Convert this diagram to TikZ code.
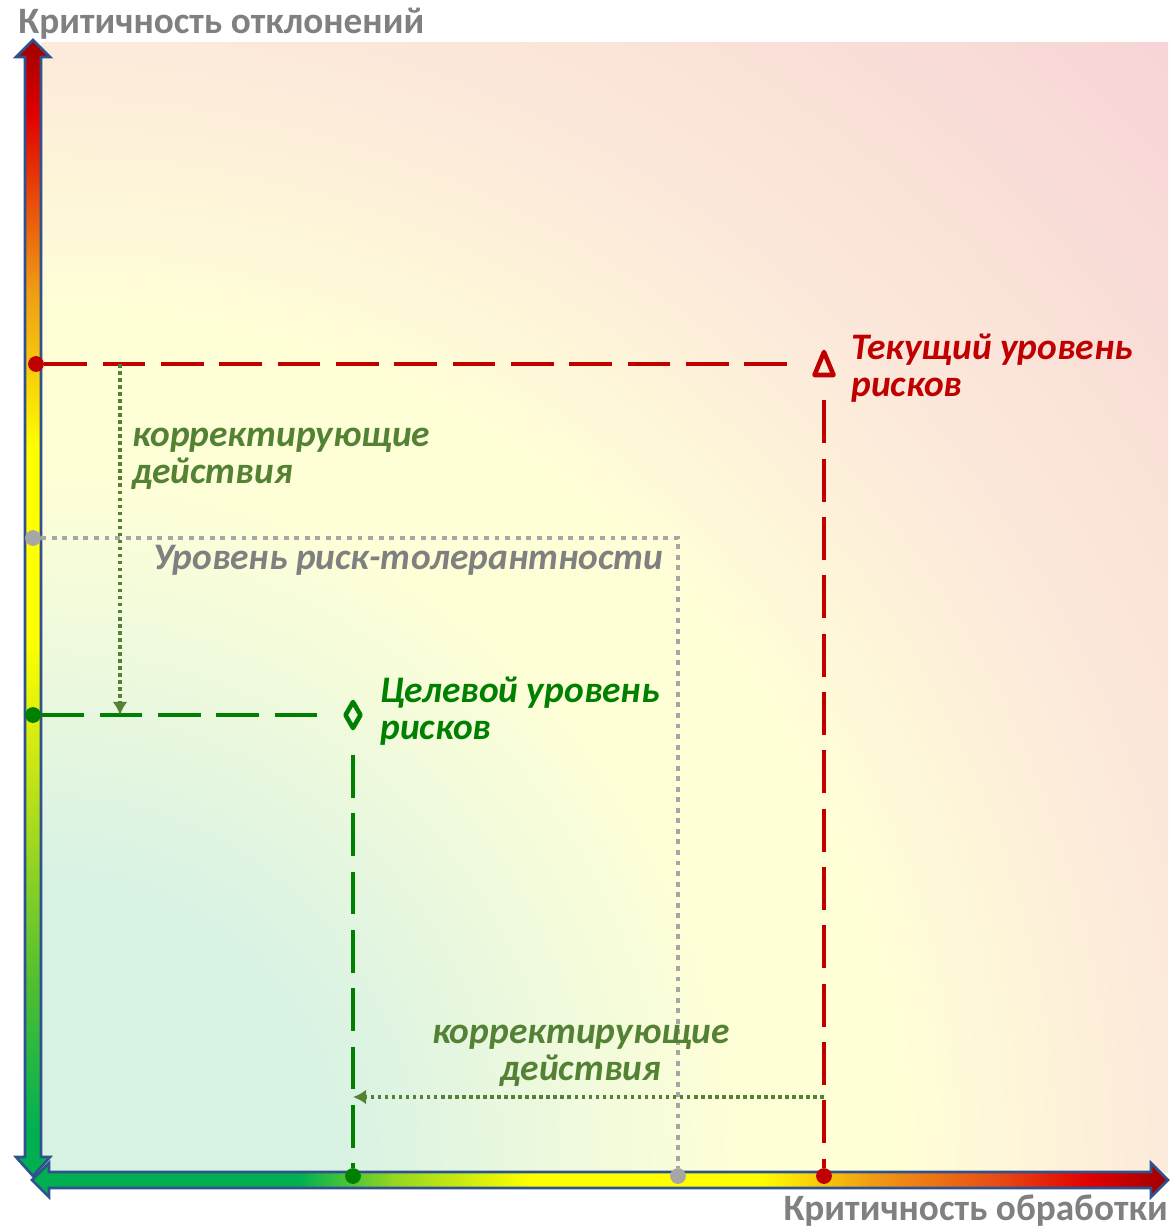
\documentclass[tikz,border=0pt]{standalone}
\usepackage{fontspec}
\setmainfont{Carlito}
\usepackage{xcolor}
\usetikzlibrary{arrows.meta,positioning}
% Colours
\definecolor{CurRed}{RGB}{192,0,0}
\definecolor{TgtGreen}{RGB}{0,128,0}
\definecolor{FixGreen}{RGB}{84,130,53}
\definecolor{TolGray}{RGB}{166,166,166}
\definecolor{LabelGray}{RGB}{128,128,128}
\definecolor{AxisBlue}{RGB}{47,82,143}
\definecolor{FieldGreen}{RGB}{216,242,228}
\definecolor{FieldYellow}{RGB}{255,255,215}
\definecolor{FieldPeach}{RGB}{252,234,218}
\definecolor{FieldPink}{RGB}{247,212,214}
\definecolor{AxGreen}{RGB}{0,176,80}
\definecolor{AxMidGreen}{RGB}{80,190,50}
\definecolor{AxLime}{RGB}{200,230,20}
\definecolor{AxYellow}{RGB}{255,255,0}
\definecolor{AxOrange}{RGB}{240,155,20}
\definecolor{AxRedOrange}{RGB}{232,75,20}
\definecolor{AxRed}{RGB}{224,0,0}
\definecolor{AxDarkRed}{RGB}{160,0,0}
% Shadings
\pgfdeclareradialshading{Field}{\pgfpoint{0bp}{0bp}}{%
	color(0bp)=(FieldGreen); color(6.5bp)=(FieldGreen);
	color(15.5bp)=(FieldYellow); color(19bp)=(FieldYellow);
	color(25bp)=(FieldPeach); color(35.5bp)=(FieldPink);
	color(50bp)=(FieldPink)}
\pgfdeclarehorizontalshading{XAxis}{100bp}{%
	color(0bp)=(AxGreen); color(36.75bp)=(AxGreen);
	color(41bp)=(AxMidGreen!40!AxLime); color(47bp)=(AxYellow);
	color(57bp)=(AxYellow); color(62bp)=(AxOrange);
	color(67.5bp)=(AxRedOrange); color(71.5bp)=(AxRed);
	color(75bp)=(AxDarkRed); color(100bp)=(AxDarkRed)}
\pgfdeclareverticalshading{YAxis}{100bp}{%
	color(0bp)=(AxGreen); color(27bp)=(AxGreen);
	color(33.5bp)=(AxMidGreen); color(43bp)=(AxLime);
	color(48.5bp)=(AxYellow); color(57bp)=(AxYellow);
	color(64bp)=(AxOrange); color(71.75bp)=(AxRed);
	color(75bp)=(AxDarkRed); color(100bp)=(AxDarkRed)}
\tikzset{%Global config
	>=latex,
	color = black ,
	%Styles
	Axis/.style={
		draw=AxisBlue,
		line width=1.5pt,
		line join=miter,
	},
	Dot/.style={
		circle,
		fill,
		inner sep=0pt,
		minimum size=9pt,
	},
	Mark/.style={
		inner sep=0pt,
	},
	MarkLine/.style={
		line width=2.6pt,
		line join=round,
	},
	CurLine/.style={
		CurRed,
		line width=2.8pt,
		dash pattern=on 24.4pt off 8.8pt,
	},
	TgtLine/.style={
		TgtGreen,
		line width=2.8pt,
		dash pattern=on 24.4pt off 8.8pt,
	},
	TolLine/.style={
		TolGray,
		line width=2.8pt,
		dash pattern=on 2.8pt off 3.2pt,
	},
	FixArrow/.style={
		FixGreen,
		line width=2pt,
		dash pattern=on 2pt off 2pt,
		-{Latex[length=7.5pt,width=8.5pt]},
	},
	Label/.style={
		inner sep=0pt,
		align=left,
		font=\fontsize{21.3}{21}\selectfont\bfseries\itshape,
	},
	AxisLabel/.style={
		inner sep=0pt,
		text=LabelGray,
		font=\fontsize{21.2}{24}\selectfont\bfseries,
	},
}
\begin{document}
\begin{tikzpicture}[x=0.02cm, y=-0.02cm]
	\useasboundingbox (0,0) rectangle (1174,1227);
	% Background field
	\begin{scope}
		\clip (41,42) rectangle (1168,1172);
		\shade[shading=Field] (-1086,42) rectangle (1168,2302);
	\end{scope}
	% Axes
	\shadedraw[Axis, shading=YAxis] (33,40) -- (50,57) -- (41,57) -- (41,1157) -- (50,1157) -- (33,1176)
		-- (16,1157) -- (25,1157) -- (25,57) -- (16,57) -- cycle;
	\shadedraw[Axis, shading=XAxis] (32,1180) -- (49,1163) -- (49,1172) -- (1151,1172) -- (1151,1163) -- (1168,1180)
		-- (1151,1197) -- (1151,1188) -- (49,1188) -- (49,1197) -- cycle;
	\node[AxisLabel, anchor=base west] (y-label) at (18,33) {Критичность отклонений};
	\node[AxisLabel, anchor=base east] (x-label) at (1168,1220) {Критичность обработки};
	
	% Levels on the axes
	\node[Dot, CurRed] (cur-y) at (36,364) {};
	\node[Dot, CurRed] (cur-x) at (824,1176) {};
	\node[Dot, TolGray] (tol-y) at (33,538) {};
	\node[Dot, TolGray] (tol-x) at (678,1176) {};
	\node[Dot, TgtGreen] (tgt-y) at (33,715) {};
	\node[Dot, TgtGreen] (tgt-x) at (353,1176) {};
	
	% Current level
	\node[Mark, minimum width=38.5pt, minimum height=41pt] (cur) at (824,364) {};
	\draw[MarkLine, CurRed] (cur.center) ++(0,-12) -- ++(9.5,23) -- ++(-19,0) -- cycle;
	\draw[CurLine] (cur-y) -- (cur);
	\draw[CurLine] (cur) -- (cur-x);
	\node[Label, CurRed, anchor=north west] (cur-label) at (851,334) {Текущий уровень\\рисков};
	
	% Target level
	\node[Mark, minimum width=37.5pt, minimum height=45pt] (tgt) at (353,715) {};
	\draw[MarkLine, TgtGreen] (tgt.center) ++(0,-13) -- ++(7.5,13) -- ++(-7.5,13) -- ++(-7.5,-13) -- cycle;
	\draw[TgtLine] (tgt-y) -- (tgt);
	\draw[TgtLine] (tgt) -- (tgt-x);
	\node[Label, TgtGreen, anchor=north west] (tgt-label) at (380,677) {Целевой уровень\\рисков};
	
	% Tolerance
	\coordinate (tol) at (678,538);
	\draw[TolLine] (tol-y) -- (tol) -- (tol-x);
	\node[Label, LabelGray, anchor=base west] (tol-label) at (153,569) {Уровень риск-толерантности};
	
	% Corrective actions
	\coordinate (fix-v) at (120,364);
	\coordinate (fix-h) at (824,1097);
	\draw[FixArrow] (fix-v) -- (fix-v |- tgt-y);
	\draw[FixArrow] (fix-h) -- (tgt-x |- fix-h);
	\node[Label, FixGreen, anchor=north west] (fix-v-label) at (132,428) {корректирующие\\действия};
	\node[Label, FixGreen, align=center, anchor=north] (fix-h-label) at (581,1025) {корректирующие\\действия};
\end{tikzpicture}
\end{document}
